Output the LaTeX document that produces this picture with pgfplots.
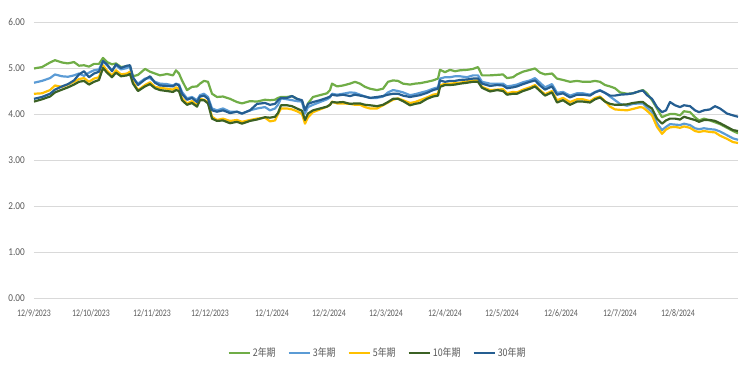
\documentclass[border=0pt]{standalone}
\usepackage{pgfplots}
\pgfplotsset{compat=1.18}
\usepackage{pgfplotstable}
\usepackage{fontspec}
\setmainfont{Carlito}
\newfontfamily\xfont{Carlito}[FakeStretch=0.78]
\newfontfamily\yfont{Carlito}[FakeStretch=0.88]
\newfontfamily\lfont{Noto Sans CJK TC}[FakeStretch=0.85]
\definecolor{cA}{HTML}{70AD47}
\definecolor{cB}{HTML}{5B9BD5}
\definecolor{cC}{HTML}{FFC000}
\definecolor{cD}{HTML}{3B6124}
\definecolor{cE}{HTML}{255E91}
\definecolor{gridc}{HTML}{D9D9D9}
\definecolor{txt}{HTML}{595959}
\pgfplotstableread{
x s2 s3 s5 s10 s30
34 4.99 4.68 4.44 4.27 4.33
42 5.02 4.72 4.45 4.32 4.37
50 5.12 4.78 4.52 4.38 4.44
55 5.17 4.86 4.62 4.47 4.53
62 5.12 4.82 4.59 4.53 4.60
68 5.10 4.81 4.64 4.58 4.65
74 5.13 4.84 4.70 4.64 4.73
79 5.05 4.88 4.76 4.70 4.86
84 5.06 4.83 4.78 4.72 4.93
89 5.03 4.90 4.70 4.64 4.80
94 5.09 4.95 4.77 4.70 4.88
99 5.09 4.97 4.80 4.74 4.92
103 5.22 5.15 5.06 5.00 5.15
107 5.13 5.06 4.94 4.90 5.08
112 5.08 4.95 4.84 4.80 4.93
116 5.10 5.06 4.95 4.90 5.08
121 5.02 4.97 4.86 4.82 5.00
127 5.04 5.00 4.88 4.84 5.05
130 5.02 5.04 4.92 4.87 5.06
133 4.82 4.77 4.70 4.66 4.80
138 4.85 4.66 4.52 4.50 4.63
145 4.98 4.77 4.63 4.60 4.75
150 4.92 4.78 4.69 4.65 4.82
155 4.88 4.70 4.59 4.56 4.68
160 4.84 4.66 4.57 4.52 4.62
167 4.87 4.65 4.55 4.50 4.61
173 4.84 4.62 4.53 4.48 4.60
176 4.95 4.66 4.58 4.52 4.65
179 4.88 4.64 4.55 4.50 4.62
182 4.73 4.48 4.34 4.30 4.44
187 4.52 4.34 4.23 4.20 4.31
192 4.59 4.37 4.28 4.24 4.35
197 4.60 4.30 4.19 4.16 4.26
200 4.66 4.41 4.33 4.30 4.38
204 4.72 4.44 4.31 4.30 4.40
208 4.70 4.37 4.26 4.23 4.33
212 4.44 4.12 3.94 3.90 4.08
217 4.37 4.08 3.87 3.85 4.05
223 4.38 4.12 3.90 3.86 4.08
230 4.33 4.05 3.85 3.80 4.02
237 4.26 4.05 3.87 3.83 4.05
242 4.23 4.01 3.83 3.79 4.01
250 4.28 4.08 3.87 3.85 4.08
257 4.27 4.12 3.90 3.88 4.22
265 4.31 4.15 3.92 3.93 4.24
270 4.30 4.08 3.84 3.92 4.20
275 4.31 4.12 3.86 3.94 4.22
278 4.35 4.20 4.00 4.02 4.30
281 4.37 4.34 4.12 4.19 4.35
287 4.37 4.32 4.12 4.19 4.35
292 4.39 4.30 4.10 4.17 4.39
297 4.33 4.28 4.06 4.12 4.33
302 4.28 4.27 4.00 4.07 4.30
305 4.05 4.01 3.79 3.87 4.08
308 4.23 4.15 3.93 4.01 4.22
313 4.37 4.20 4.04 4.08 4.26
320 4.41 4.26 4.10 4.12 4.30
327 4.45 4.32 4.16 4.16 4.35
330 4.52 4.36 4.20 4.20 4.38
332 4.66 4.44 4.27 4.26 4.42
337 4.60 4.42 4.23 4.25 4.40
343 4.62 4.44 4.23 4.26 4.42
350 4.66 4.47 4.22 4.22 4.39
355 4.70 4.46 4.20 4.23 4.42
360 4.66 4.42 4.20 4.23 4.40
365 4.59 4.38 4.15 4.20 4.38
370 4.55 4.35 4.12 4.19 4.35
377 4.52 4.35 4.12 4.17 4.37
383 4.55 4.38 4.19 4.20 4.39
388 4.70 4.47 4.25 4.26 4.42
393 4.73 4.52 4.31 4.33 4.44
398 4.72 4.50 4.34 4.33 4.44
403 4.66 4.47 4.30 4.28 4.40
410 4.64 4.41 4.24 4.19 4.37
415 4.66 4.43 4.26 4.22 4.39
420 4.67 4.46 4.30 4.24 4.41
427 4.70 4.50 4.36 4.33 4.46
433 4.73 4.55 4.42 4.38 4.52
438 4.77 4.58 4.44 4.40 4.55
440 4.96 4.77 4.62 4.59 4.73
445 4.91 4.80 4.66 4.63 4.70
450 4.96 4.80 4.66 4.63 4.72
455 4.93 4.82 4.67 4.64 4.72
460 4.95 4.82 4.68 4.66 4.74
467 4.96 4.80 4.71 4.68 4.75
473 4.98 4.84 4.73 4.70 4.77
478 5.02 4.84 4.73 4.70 4.77
482 4.84 4.70 4.59 4.57 4.66
490 4.84 4.66 4.52 4.49 4.61
497 4.85 4.66 4.53 4.52 4.63
503 4.86 4.66 4.54 4.50 4.62
507 4.78 4.60 4.45 4.42 4.56
513 4.80 4.62 4.48 4.44 4.58
517 4.86 4.64 4.47 4.44 4.60
523 4.92 4.69 4.53 4.50 4.65
530 4.96 4.73 4.58 4.55 4.70
535 4.99 4.78 4.63 4.60 4.73
540 4.90 4.68 4.52 4.50 4.62
545 4.86 4.58 4.43 4.40 4.53
552 4.88 4.65 4.50 4.47 4.60
557 4.77 4.46 4.30 4.25 4.42
563 4.74 4.48 4.35 4.30 4.45
570 4.70 4.40 4.26 4.20 4.36
577 4.72 4.45 4.32 4.27 4.42
583 4.70 4.45 4.32 4.27 4.42
590 4.70 4.42 4.28 4.25 4.40
595 4.72 4.48 4.35 4.32 4.47
600 4.70 4.52 4.38 4.36 4.51
605 4.63 4.46 4.28 4.27 4.46
610 4.60 4.38 4.16 4.22 4.40
615 4.56 4.30 4.10 4.20 4.40
620 4.47 4.22 4.09 4.20 4.42
627 4.44 4.18 4.08 4.21 4.43
633 4.45 4.22 4.11 4.24 4.45
640 4.50 4.23 4.15 4.26 4.50
643 4.52 4.23 4.14 4.26 4.51
647 4.45 4.14 4.07 4.19 4.41
652 4.30 4.04 3.97 4.12 4.33
657 4.12 3.80 3.72 3.90 4.15
662 3.93 3.65 3.57 3.79 4.04
666 3.97 3.72 3.66 3.86 4.08
670 4.00 3.78 3.71 3.90 4.26
675 4.00 3.77 3.72 3.90 4.19
680 3.97 3.76 3.70 3.88 4.15
684 4.06 3.79 3.73 3.94 4.19
690 4.04 3.76 3.70 3.90 4.17
695 3.93 3.69 3.63 3.87 4.08
699 3.86 3.67 3.61 3.83 4.04
704 3.90 3.69 3.63 3.87 4.08
710 3.86 3.67 3.61 3.87 4.10
715 3.82 3.66 3.60 3.85 4.17
720 3.78 3.62 3.53 3.80 4.12
727 3.70 3.54 3.46 3.72 4.01
733 3.63 3.47 3.39 3.65 3.97
738 3.58 3.44 3.37 3.63 3.94
}\yields
\begin{document}
\begin{tikzpicture}
\useasboundingbox (0,0) rectangle (750pt,384pt);
\begin{axis}[
  at={(34pt,86pt)}, anchor=south west,
  scale only axis, width=704pt, height=276pt,
  xmin=34, xmax=738, ymin=0, ymax=6,
  axis line style={draw=none},
  major tick length=0pt,
  ytick={0,1,2,3,4,5,6},
  yticklabels={0.00,1.00,2.00,3.00,4.00,5.00,6.00},
  xtick={34,91,152,210,272,329,386,445,502,561,620,678},
  xticklabels={12/9/2023,12/10/2023,12/11/2023,12/12/2023,12/1/2024,12/2/2024,12/3/2024,12/4/2024,12/5/2024,12/6/2024,12/7/2024,12/8/2024},
  ymajorgrids, xmajorgrids=false,
  grid style={draw=gridc, line width=0.9pt},
  yticklabel style={font=\yfont\fontsize{10.5}{12}\selectfont, text=txt, anchor=east, inner sep=0pt, xshift=-9pt},
  xticklabel style={font=\xfont\fontsize{10}{12}\selectfont, text=txt, anchor=north, inner sep=0pt, yshift=-11pt},
  legend columns=5,
  legend style={at={(0.488,-0.2)}, anchor=center, draw=none, fill=none,
    font=\lfont\fontsize{10.5}{12}\selectfont, text=txt,
    /tikz/every even column/.append style={column sep=10pt},
    nodes={inner xsep=2pt}},
  legend image code/.code={\draw[#1] (0pt,0pt) -- (21pt,0pt);},
  every axis plot/.append style={line width=2.2pt, line join=round},
]
\addplot[cA] table[x=x, y=s2] {\yields};
\addlegendentry{2年期}
\addplot[cB] table[x=x, y=s3] {\yields};
\addlegendentry{3年期}
\addplot[cC] table[x=x, y=s5] {\yields};
\addlegendentry{5年期}
\addplot[cD] table[x=x, y=s10] {\yields};
\addlegendentry{10年期}
\addplot[cE] table[x=x, y=s30] {\yields};
\addlegendentry{30年期}
\end{axis}
\end{tikzpicture}
\end{document}
